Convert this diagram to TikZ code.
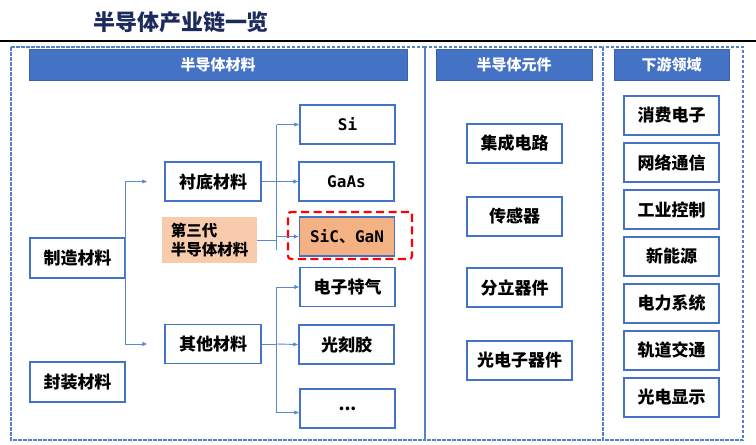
\documentclass[tikz,border=0pt]{standalone}
\usepackage{fontspec}
\setmainfont{Noto Sans CJK SC}
\newfontfamily\monob{DejaVu Sans Mono}
\newfontfamily\cjkblack{Noto Sans CJK SC Black}
\usetikzlibrary{arrows.meta,calc}
\definecolor{boxblue}{HTML}{4472C4}
\definecolor{hdrline}{HTML}{3A62AA}
\definecolor{connblue}{HTML}{5A87D3}
\definecolor{navy}{HTML}{1C2B5E}
\definecolor{peach}{HTML}{F8CBAD}
\definecolor{orangefill}{HTML}{F4B183}
\tikzset{
  cbox/.style={draw=boxblue, line width=1.3pt, minimum width=95pt, minimum height=39pt, inner sep=0pt,
    font=\cjkblack\fontsize{17}{20}\selectfont},
  hdr/.style={draw=hdrline, fill=boxblue, line width=0.8pt, minimum height=31pt, inner sep=0pt,
    text=white, font=\fontsize{15}{18}\selectfont\bfseries},
  outerbox/.style={draw=boxblue!90, line width=1.1pt, dash pattern=on 3.5pt off 1.5pt},
  conn/.style={draw=connblue, line width=0.9pt},
  arr/.style={conn, -{Latex[length=5pt,width=4.5pt]}},
  reddash/.style={draw=red, line width=2.2pt, dash pattern=on 8pt off 4.5pt, rounded corners=3pt,
    minimum width=124pt, minimum height=47pt},
  latin/.style={font=\monob\fontsize{16}{18}\selectfont\bfseries},
}
\begin{document}
\begin{tikzpicture}[x=1pt,y=-1pt]
\useasboundingbox (0,0) rectangle (756,445);
% title and rule
\node[text=navy, font=\cjkblack\fontsize{22}{24}\selectfont] (title) at (181,22) {半导体产业链一览};
\draw[line width=2pt] (0,41) -- (756,41);
% outer dashed panels
\draw[outerbox] (11,47) rectangle (425,440);
\draw[outerbox] (425,47) rectangle (603,440);
\draw[outerbox] (603,47) rectangle (743,440);
% headers
\node[hdr, minimum width=378pt] (h1) at (218,64.5) {半导体材料};
\node[hdr, minimum width=156pt] (h2) at (514,64.5) {半导体元件};
\node[hdr, minimum width=115pt] (h3) at (671.5,64.5) {下游领域};
% left column
\node[cbox, minimum height=40pt] (zhizao) at (77.5,258) {制造材料};
\node[cbox, minimum height=40pt] (fengzhuang) at (77.5,382) {封装材料};
\node[cbox, minimum width=96pt] (chendi) at (213,181.5) {衬底材料};
\node[cbox, minimum width=96pt] (qita) at (213,344) {其他材料};
\node[fill=peach, minimum width=95pt, minimum height=46pt, inner sep=0pt, align=left,
  font=\cjkblack\fontsize{15.5}{19}\selectfont] (disan) at (209.5,240) {第三代\\半导体材料};
% materials
\node[cbox, latin] (si) at (347.5,124.5) {Si};
\node[cbox, latin] (gaas) at (346.5,181.5) {GaAs};
\node[cbox, fill=orangefill, latin] (sic) at (347,236.5) {SiC{\cjkblack\fontsize{16}{18}\selectfont 、}GaN};
\node[reddash] (hl) at (350,235.5) {};
\node[cbox] (dianzi) at (347.5,287) {电子特气};
\node[cbox] (guangke) at (346.5,344.5) {光刻胶};
\node[cbox] (etc) at (347.5,408.5) {...};
% components
\node[cbox] (jicheng) at (514.5,143.5) {集成电路};
\node[cbox] (chuangan) at (514.5,216.5) {传感器};
\node[cbox] (fenli) at (514.5,287.5) {分立器件};
\node[cbox, minimum width=105pt] (guangdian) at (519.5,360.5) {光电子器件};
% downstream
\node[cbox] (xiaofei) at (671.5,115.5) {消费电子};
\node[cbox] (wangluo) at (671.5,162.5) {网络通信};
\node[cbox] (gongye) at (671.5,209.5) {工业控制};
\node[cbox] (xinneng) at (671.5,256.5) {新能源};
\node[cbox] (dianli) at (671.5,303.5) {电力系统};
\node[cbox] (guidao) at (671.5,350.5) {轨道交通};
\node[cbox] (xianshi) at (671.5,397.5) {光电显示};
% connectors from 制造材料
\coordinate (za) at ($(chendi.west)+(-17,0)$);
\coordinate (zb) at ($(qita.west)+(-17,0)$);
\draw[arr] (zhizao.east) |- (za);
\draw[arr] (zhizao.east) |- (zb);
% connectors from 衬底材料
\coordinate (ja) at ($(chendi.east)+(15,0)$);
\coordinate (jaend) at ($(ja |- disan.east)+(0,10)$);
\draw[conn] (chendi.east) -- (ja);
\draw[conn] (disan.east) -- (disan.east -| ja);
\draw[conn] (ja |- si.west) -- (jaend);
\draw[arr] (ja |- si.west) -- (si.west);
\draw[arr] (ja) -- (gaas.west);
\draw[arr] (ja |- sic.west) -- (sic.west);
% connectors from 其他材料
\coordinate (jb) at ($(qita.east)+(15,0)$);
\draw[conn] (qita.east) -- (jb);
\draw[arr] (jb) |- (dianzi.west);
\draw[arr] (jb) -- (guangke.west);
\draw[arr] (jb) |- ($(etc.west)+(0,4)$);
\end{tikzpicture}
\end{document}
